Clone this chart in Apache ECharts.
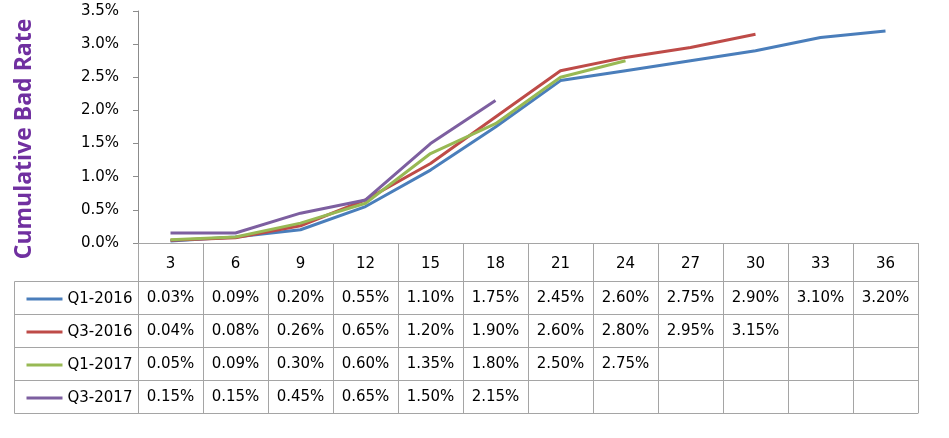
<!DOCTYPE html>
<html>
<head>
<meta charset="utf-8">
<script src="https://cdn.jsdelivr.net/npm/echarts@6/dist/echarts.min.js"></script>
<style>
html,body{margin:0;padding:0;background:#fff;}
#chart{width:949px;height:438px;}
</style>
</head>
<body>
<div id="chart"></div>
<script>
// ---- data ----
const categories = ['3','6','9','12','15','18','21','24','27','30','33','36'];
const seriesNames = ['Q1-2016','Q3-2016','Q1-2017','Q3-2017'];
const q1_2016 = [0.03,0.09,0.20,0.55,1.10,1.75,2.45,2.60,2.75,2.90,3.10,3.20];
const q3_2016 = [0.04,0.08,0.26,0.65,1.20,1.90,2.60,2.80,2.95,3.15,null,null];
const q1_2017 = [0.05,0.09,0.30,0.60,1.35,1.80,2.50,2.75,null,null,null,null];
const q3_2017 = [0.15,0.15,0.45,0.65,1.50,2.15,null,null,null,null,null,null];
const yTicks = {min:0, max:3.5, interval:0.5};
const yTitle = 'Cumulative Bad Rate';

const seriesData = [q1_2016,q3_2016,q1_2017,q3_2017];
const colors = ['#4a7ebb','#be4b48','#98b954','#7d5fa0'];

// ---- layout ----
const L = {left:138, right:31, top:11, bottom:195, row:33, header:38, legendLeft:14};
const font = 'DejaVu Sans';
const fs = 15;
const tableColor = '#a5a5a5';

const chart = echarts.init(document.getElementById('chart'));

const xAxes = [{
  type:'category', data:categories, boundaryGap:true, position:'bottom',
  axisLine:{lineStyle:{color:tableColor,width:1}},
  axisTick:{show:true, interval:0, length:L.header + 4*L.row, lineStyle:{color:tableColor}},
  axisLabel:{interval:0, margin:13, color:'#000', fontFamily:font, fontSize:fs, lineHeight:16}
}];
for (let i=0;i<=4;i++){
  const data = seriesData[i];
  xAxes.push({
    type:'category', data:categories, boundaryGap:true, position:'bottom',
    offset: L.header + i*L.row,
    axisLine:{show:true, lineStyle:{color:tableColor,width:1}},
    axisTick:{show:false},
    axisLabel:{
      show: i<4, interval:0, margin:9, color:'#000', fontFamily:font, fontSize:fs, lineHeight:16,
      formatter:(v,idx)=>{ if(!data) return ''; const d=data[idx]; return d==null?'':d.toFixed(2)+'%'; }
    }
  });
}

const tableTop = 438 - L.bottom + L.header;
const graphics = [{
  type:'rect', shape:{x:L.legendLeft+0.5, y:tableTop+0.5, width:L.left-L.legendLeft, height:4*L.row},
  style:{fill:'none', stroke:tableColor, lineWidth:1}, silent:true
}];
for (let i=1;i<4;i++){
  graphics.push({type:'line', shape:{x1:L.legendLeft, y1:tableTop+i*L.row+0.5, x2:L.left, y2:tableTop+i*L.row+0.5},
    style:{stroke:tableColor, lineWidth:1}, silent:true});
}
graphics.push({
  type:'text', x:24, y:139, rotation:Math.PI/2, silent:true,
  style:{text:yTitle, fill:'#7030a0', font:'bold 23px "Open Sans"', textAlign:'center', textVerticalAlign:'middle'}
});

chart.setOption({
  backgroundColor:'#fff',
  animation:false,
  color:colors,
  grid:{left:L.left, right:L.right, top:L.top, bottom:L.bottom, containLabel:false},
  legend:{
    orient:'vertical', left:20, top:tableTop+5, itemWidth:36, itemHeight:14, itemGap:17,
    textStyle:{fontFamily:font, fontSize:fs, color:'#000', lineHeight:16},
    itemStyle:{opacity:0},
    lineStyle:{width:3},
    data:seriesNames
  },
  xAxis:xAxes,
  yAxis:{
    type:'value', min:yTicks.min, max:yTicks.max, interval:yTicks.interval,
    axisLine:{show:true, lineStyle:{color:'#8c8c8c'}},
    axisTick:{show:true, length:5, lineStyle:{color:'#8c8c8c'}},
    splitLine:{show:false},
    axisLabel:{margin:19, verticalAlign:'middle', padding:[6,0,0,0], color:'#000', fontFamily:font, fontSize:fs, formatter:v=>v.toFixed(1)+'%'}
  },
  graphic:graphics,
  series: seriesNames.map((n,i)=>({
    name:n, type:'line', data:seriesData[i], symbol:'none', xAxisIndex:0,
    lineStyle:{width:3, color:colors[i]}, connectNulls:false
  }))
});
</script>
</body>
</html>
